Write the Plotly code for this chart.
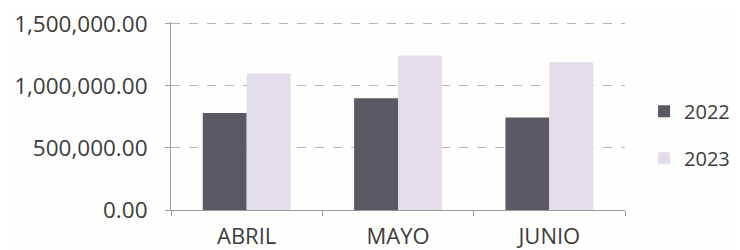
import plotly.graph_objects as go

categories = ["ABRIL", "MAYO", "JUNIO"]
values_2022 = [782000, 900000, 746000]
values_2023 = [1100000, 1246000, 1190000]
series_names = ["2022", "2023"]
y_ticks = [0, 500000, 1000000, 1500000]
y_tick_labels = ["0.00", "500,000.00", "1,000,000.00", "1,500,000.00"]

font_family = "Open Sans, Liberation Sans, sans-serif"

fig = go.Figure()
fig.add_trace(go.Bar(x=categories, y=values_2022, name=series_names[0],
                     marker=dict(color="#5a5862", line=dict(width=0)),
                     legendgroup="a"))
fig.add_trace(go.Bar(x=categories, y=values_2023, name=series_names[1],
                     marker=dict(color="#e2dde8", line=dict(width=0)),
                     legendgroup="b"))

# page body has an 8px margin, so the figure is drawn 8px in from the top-left
fig.update_layout(
    width=732, height=242,
    margin=dict(l=163, r=115, t=14, b=40, autoexpand=False),
    paper_bgcolor="#fefefc", plot_bgcolor="#fefefc",
    barmode="group", bargap=0.42, bargroupgap=0,
    font=dict(family=font_family, size=22, color="#3c3c3c"),
    showlegend=True,
    legend=dict(x=1.042, y=0.40, xanchor="left", yanchor="middle",
                tracegroupgap=18, font=dict(size=20, color="#3c3c3c"),
                borderwidth=0, bgcolor="rgba(0,0,0,0)"),
    xaxis=dict(showline=True, linecolor="#9a9a9a", linewidth=1,
               ticks="outside", tickson="boundaries", ticklen=5,
               tickcolor="#9a9a9a", showgrid=False,
               tickfont=dict(size=22), ticklabeloverflow="allow",
               ticklabelstandoff=7, automargin=False),
    yaxis=dict(range=[0, 1515000], tickvals=y_ticks, ticktext=y_tick_labels,
               showline=True, linecolor="#a0a0a0", linewidth=1,
               ticks="outside", ticklen=5, tickcolor="#a0a0a0",
               showgrid=True, gridcolor="#b5b5b5", griddash="dash",
               gridwidth=1, zeroline=False, ticklabelstandoff=13,
               tickfont=dict(size=22.5), ticklabeloverflow="allow",
               automargin=False),
)

fig.write_html("out.html")
